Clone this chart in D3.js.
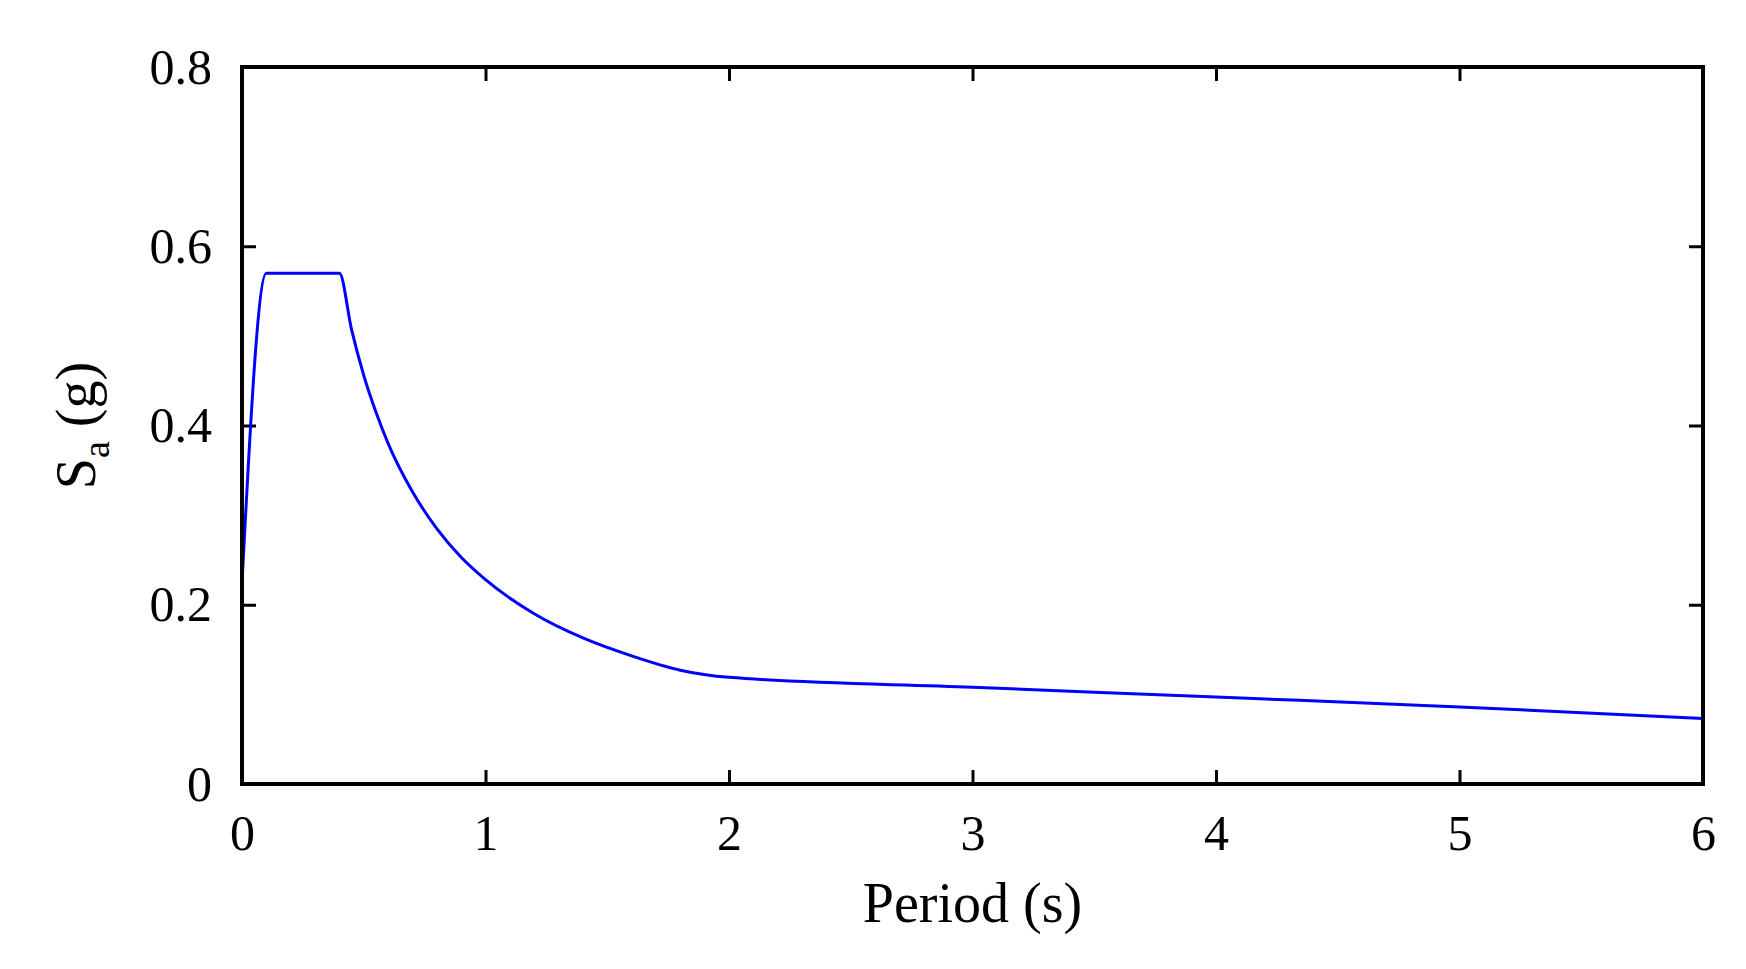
<!DOCTYPE html>
<html><head><meta charset="utf-8">
<script src="https://cdn.jsdelivr.net/npm/d3@7"></script>
<style>body{margin:0;background:#fff}</style>
</head><body>
<svg id="c" width="1746" height="969"></svg>
<script>
'use strict';

// spectrum
var periods = [0, 0.1, 0.4, 0.45, 0.5, 0.55, 0.6, 0.7, 0.8, 0.9, 1.0, 1.2, 1.4, 1.6, 1.8, 2.0, 3, 4, 5, 6];
var sa      = [0.225, 0.57, 0.57, 0.507, 0.456, 0.415, 0.38, 0.326, 0.285, 0.253, 0.228, 0.19, 0.163, 0.143, 0.127, 0.119, 0.108, 0.097, 0.086, 0.073];
var xTicks = [0, 1, 2, 3, 4, 5, 6];
var yTicks = [0, 0.2, 0.4, 0.6, 0.8];

var m = {left: 242, right: 1703, top: 67, bottom: 784};
var svg = d3.select('#c');
var x = d3.scaleLinear().domain([0, 6]).range([m.left, m.right]);
var y = d3.scaleLinear().domain([0, 0.8]).range([m.bottom, m.top]);
var font = '"Liberation Serif", "DejaVu Serif", serif';

// inward ticks on all four sides
function ticks(axis, sel) {
	sel.call(axis).call(function(g){ g.select('.domain').remove(); })
		.selectAll('line').attr('stroke', '#000').attr('stroke-width', 3);
	sel.selectAll('text').attr('font-family', font).attr('font-size', 50).attr('fill', '#000');
}
ticks(d3.axisBottom(x).tickValues(xTicks).tickSize(-14).tickPadding(30).tickFormat(d3.format('d')),
	svg.append('g').attr('transform', 'translate(0,' + m.bottom + ')'));
ticks(d3.axisTop(x).tickValues(xTicks).tickSize(-14).tickFormat(''),
	svg.append('g').attr('transform', 'translate(0,' + m.top + ')'));
ticks(d3.axisLeft(y).tickValues(yTicks).tickSize(-14).tickPadding(30).tickFormat(function(d){ return d === 0 ? '0' : d3.format('.1f')(d); }),
	svg.append('g').attr('transform', 'translate(' + m.left + ',0)'));
ticks(d3.axisRight(y).tickValues(yTicks).tickSize(-14).tickFormat(''),
	svg.append('g').attr('transform', 'translate(' + m.right + ',0)'));

svg.append('path')
	.datum(periods.map(function(t, i){ return [t, sa[i]]; }))
	.attr('fill', 'none').attr('stroke', '#0000ff').attr('stroke-width', 3)
	.attr('d', d3.line().x(function(d){ return x(d[0]); }).y(function(d){ return y(d[1]); }).curve(d3.curveMonotoneX));

svg.append('rect').attr('x', m.left).attr('y', m.top)
	.attr('width', m.right - m.left).attr('height', m.bottom - m.top)
	.attr('fill', 'none').attr('stroke', '#000').attr('stroke-width', 4);

svg.append('text').attr('x', (m.left + m.right) / 2).attr('y', 922)
	.attr('text-anchor', 'middle').attr('font-family', font).attr('font-size', 56)
	.text('Period (s)');

var yl = svg.append('text').attr('transform', 'translate(95,' + ((m.top + m.bottom) / 2) + ') rotate(-90)')
	.attr('text-anchor', 'middle').attr('font-family', font).attr('font-size', 56);
yl.append('tspan').text('S');
yl.append('tspan').attr('font-size', 38).attr('dy', 14).text('a');
yl.append('tspan').attr('dy', -14).text(' (g)');
</script>
</body></html>
